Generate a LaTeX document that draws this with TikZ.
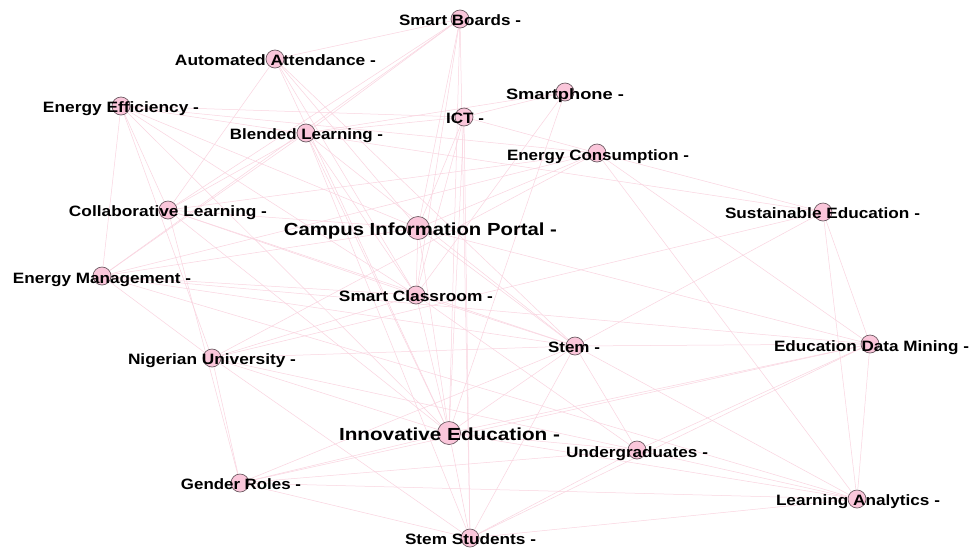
\documentclass[tikz,border=0pt]{standalone}
\usepackage{fontspec}
\usepackage{graphicx}
\usetikzlibrary{backgrounds}
\newfontfamily\lblfont{Liberation Sans}
\definecolor{edgepink}{RGB}{250,212,224}
\definecolor{nodepink}{RGB}{250,198,218}
\definecolor{nodeline}{RGB}{110,92,100}
\newcommand{\lab}[3]{\resizebox{#1pt}{\height}{\lblfont\bfseries\fontsize{#2}{#2}\selectfont #3}}
\begin{document}
\begin{tikzpicture}[x=1pt,y=-1pt,
  vtx/.style={circle,fill=nodepink,draw=nodeline,line width=0.7pt,inner sep=0pt,minimum size=18pt},
  bigvtx/.style={vtx,minimum size=23pt},
  lbl/.style={anchor=base,inner sep=0pt,text=black},
  edge/.style={draw=edgepink,line width=0.5pt}]
\useasboundingbox (0,0) rectangle (977,547);
% vertices
\node[vtx] (SB) at (460,19) {};
\node[vtx] (AA) at (275,59) {};
\node[vtx] (EE) at (121,106) {};
\node[vtx] (BL) at (306,133) {};
\node[vtx] (ICT) at (464,117) {};
\node[vtx] (SP) at (565,92) {};
\node[vtx] (EC) at (597,153) {};
\node[vtx] (CL) at (168,210) {};
\node[bigvtx] (CIP) at (418,228) {};
\node[vtx] (SE) at (823,212) {};
\node[vtx] (EM) at (102,276) {};
\node[vtx] (SC) at (416,295) {};
\node[vtx] (NU) at (212,358) {};
\node[vtx] (ST) at (575,346) {};
\node[vtx] (EDM) at (870,344) {};
\node[bigvtx] (IE) at (449,433) {};
\node[vtx] (UG) at (637,450) {};
\node[vtx] (GR) at (240,483) {};
\node[vtx] (LA) at (857,499) {};
\node[vtx] (SS) at (470,538) {};
% edges
\begin{scope}[on background layer]
\fill[white] (0,0) rectangle (977,547);
\foreach \a/\b in {SB/AA,SB/CL,SB/EM,SB/BL,SB/CIP,SB/SC,SB/IE,SB/SS,
  AA/CL,AA/CIP,AA/SC,AA/IE,AA/ST,
  EE/ICT,EE/EM,EE/CL,EE/NU,EE/CIP,EE/SC,EE/IE,EE/SE,EE/EC,
  BL/ICT,BL/CL,BL/EM,BL/SC,BL/IE,BL/SS,BL/ST,BL/SP,
  ICT/SP,ICT/EC,ICT/CIP,ICT/SC,ICT/IE,ICT/SS,
  SP/SC,SP/IE,
  EC/SE,EC/EDM,EC/LA,EC/CIP,EC/CL,EC/EM,EC/NU,
  SE/EDM,SE/LA,SE/ST,SE/NU,
  EM/CIP,EM/NU,EM/SC,EM/ST,EM/EDM,EM/LA,
  CL/GR,CL/CIP,CL/SC,CL/IE,CL/ST,
  NU/GR,NU/ST,NU/SC,NU/IE,NU/UG,NU/SS,
  GR/ST,GR/IE,GR/EDM,GR/UG,GR/LA,GR/SS,
  IE/CIP,IE/SC,IE/SS,IE/ST,IE/UG,IE/LA,IE/EDM,
  ST/SC,ST/CIP,ST/EDM,ST/LA,ST/UG,ST/SS,
  UG/LA,UG/EDM,UG/SS,UG/SC,
  LA/EDM,LA/SS,SS/EDM,CIP/SC,CIP/EDM}
  \draw[edge] (\a) -- (\b);
\end{scope}
% labels
\node[lbl] (lSB) at (460,25.5) {\lab{122}{15}{Smart Boards -}};
\node[lbl] (lAA) at (275.5,65.5) {\lab{201}{15}{Automated Attendance -}};
\node[lbl] (lEE) at (121,112.5) {\lab{156}{15}{Energy Efficiency -}};
\node[lbl] (lBL) at (306.5,139.5) {\lab{153}{15}{Blended Learning -}};
\node[lbl] (lICT) at (465,123.5) {\lab{38}{15}{ICT -}};
\node[lbl] (lSP) at (565,99.5) {\lab{118}{15}{Smartphone -}};
\node[lbl] (lEC) at (598,160) {\lab{182}{15}{Energy Consumption -}};
\node[lbl] (lCL) at (168,216.5) {\lab{198}{15}{Collaborative Learning -}};
\node[lbl] (lCIP) at (420.5,235) {\lab{273}{17.5}{Campus Information Portal -}};
\node[lbl] (lSE) at (822.5,218.5) {\lab{195}{15}{Sustainable Education -}};
\node[lbl] (lEM) at (102,283) {\lab{178}{15}{Energy Management -}};
\node[lbl] (lSC) at (416,301.5) {\lab{154}{15}{Smart Classroom -}};
\node[lbl] (lNU) at (212,364.5) {\lab{168}{15}{Nigerian University -}};
\node[lbl] (lST) at (574,352.5) {\lab{52}{15}{Stem -}};
\node[lbl] (lEDM) at (871.5,351) {\lab{195}{15}{Education Data Mining -}};
\node[lbl] (lIE) at (449.5,440) {\lab{221}{17.5}{Innovative Education -}};
\node[lbl] (lUG) at (637,457) {\lab{142}{15}{Undergraduates -}};
\node[lbl] (lGR) at (241,489.5) {\lab{120}{15}{Gender Roles -}};
\node[lbl] (lLA) at (858,505.5) {\lab{164}{15}{Learning Analytics -}};
\node[lbl] (lSS) at (470.5,544.5) {\lab{131}{15}{Stem Students -}};
\end{tikzpicture}
\end{document}
